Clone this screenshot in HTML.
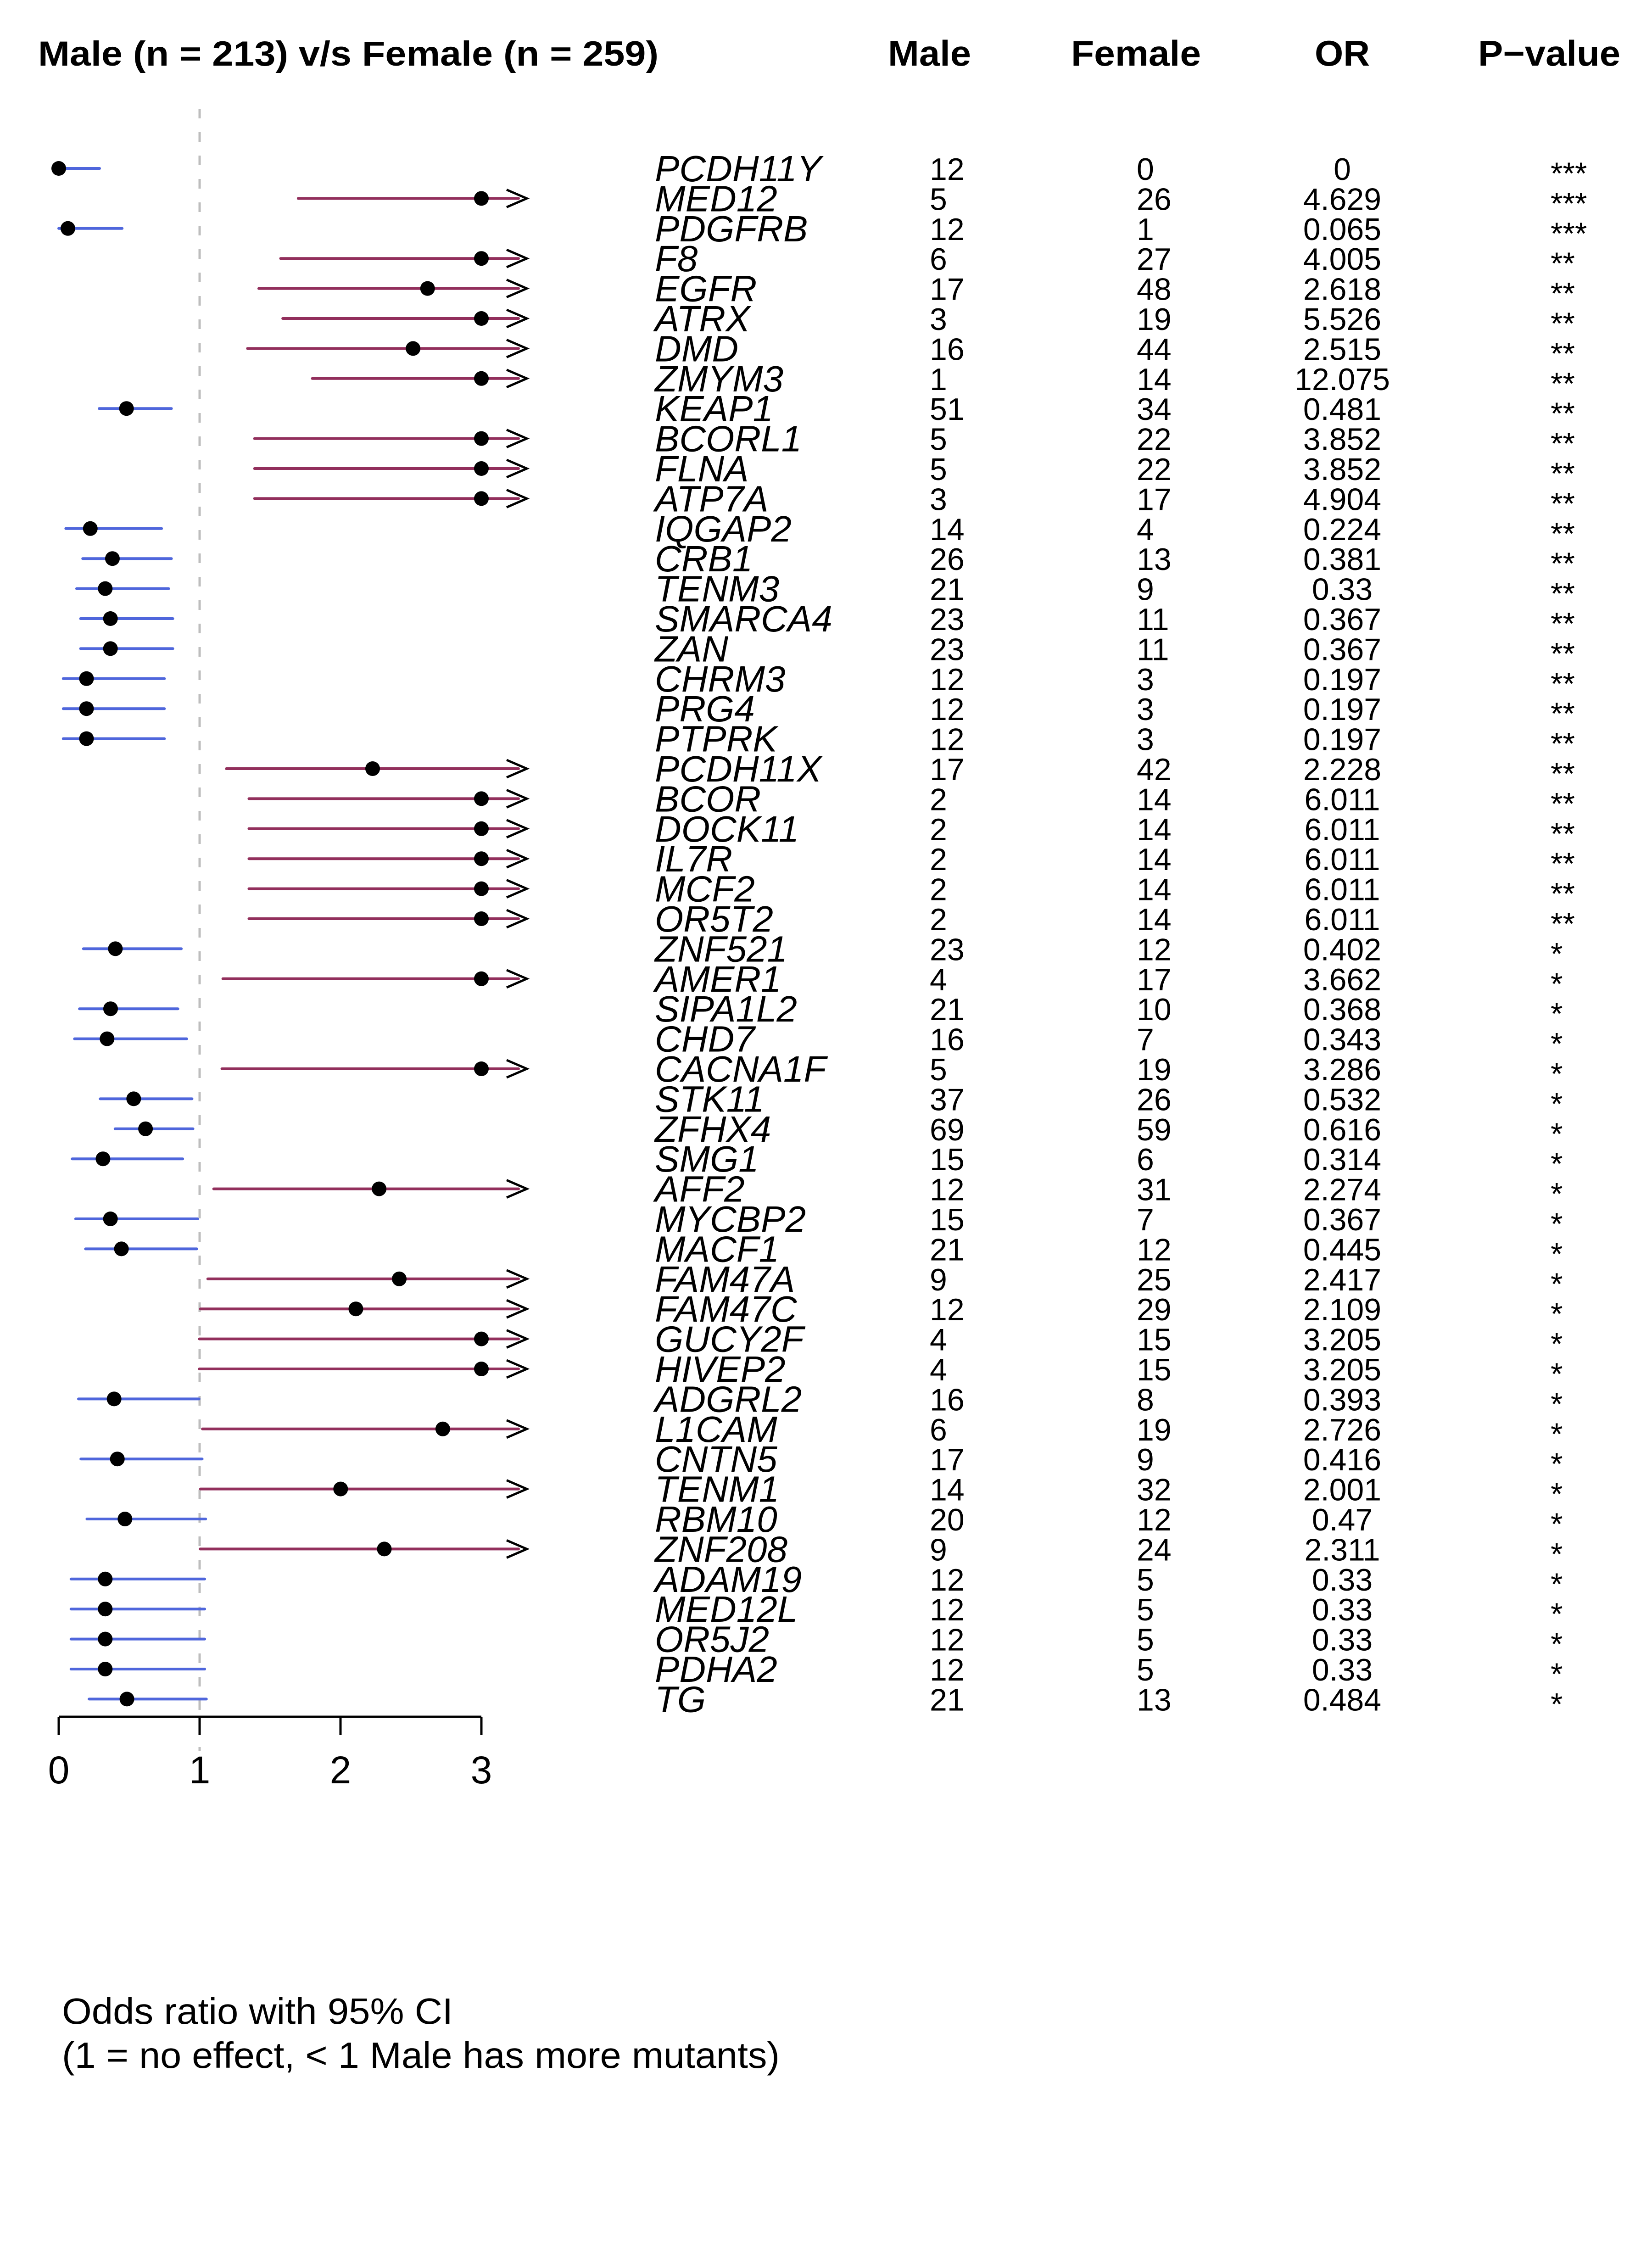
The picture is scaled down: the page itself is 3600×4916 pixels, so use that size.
<!DOCTYPE html>
<html><head><meta charset="utf-8">
<style>
html,body{margin:0;padding:0;background:#fff;}
svg{display:block;font-family:"Liberation Sans",Arial,sans-serif;}
</style></head>
<body>
<svg id="chart" width="3600" height="4916" viewBox="0 0 3600 4916" xmlns="http://www.w3.org/2000/svg">
<rect width="3600" height="4916" fill="#fff"/>
<text x="83" y="143" font-size="76" font-weight="bold" textLength="1352" lengthAdjust="spacingAndGlyphs">Male (n = 213) v/s Female (n = 259)</text>
<text x="1935" y="143" font-size="78" font-weight="bold" textLength="181" lengthAdjust="spacingAndGlyphs">Male</text>
<text x="2334" y="143" font-size="78" font-weight="bold" textLength="283" lengthAdjust="spacingAndGlyphs">Female</text>
<text x="2865" y="143" font-size="78" font-weight="bold" textLength="120" lengthAdjust="spacingAndGlyphs">OR</text>
<text x="3221" y="143" font-size="78" font-weight="bold" textLength="310" lengthAdjust="spacingAndGlyphs">P−value</text>
<g id="plot"></g>
<text x="135" y="4410" font-size="80" textLength="852" lengthAdjust="spacingAndGlyphs">Odds ratio with 95% CI</text>
<text x="135" y="4506" font-size="80" textLength="1564" lengthAdjust="spacingAndGlyphs">(1 = no effect, &lt; 1 Male has more mutants)</text>
</svg>
<script>
const genes = ["PCDH11Y","MED12","PDGFRB","F8","EGFR","ATRX","DMD","ZMYM3","KEAP1","BCORL1","FLNA","ATP7A","IQGAP2","CRB1","TENM3","SMARCA4","ZAN","CHRM3","PRG4","PTPRK","PCDH11X","BCOR","DOCK11","IL7R","MCF2","OR5T2","ZNF521","AMER1","SIPA1L2","CHD7","CACNA1F","STK11","ZFHX4","SMG1","AFF2","MYCBP2","MACF1","FAM47A","FAM47C","GUCY2F","HIVEP2","ADGRL2","L1CAM","CNTN5","TENM1","RBM10","ZNF208","ADAM19","MED12L","OR5J2","PDHA2","TG"];
const maleCounts = [12,5,12,6,17,3,16,1,51,5,5,3,14,26,21,23,23,12,12,12,17,2,2,2,2,2,23,4,21,16,5,37,69,15,12,15,21,9,12,4,4,16,6,17,14,20,9,12,12,12,12,21];
const femaleCounts = [0,26,1,27,48,19,44,14,34,22,22,17,4,13,9,11,11,3,3,3,42,14,14,14,14,14,12,17,10,7,19,26,59,6,31,7,12,25,29,15,15,8,19,9,32,12,24,5,5,5,5,13];
const oddsRatios = ["0","4.629","0.065","4.005","2.618","5.526","2.515","12.075","0.481","3.852","3.852","4.904","0.224","0.381","0.33","0.367","0.367","0.197","0.197","0.197","2.228","6.011","6.011","6.011","6.011","6.011","0.402","3.662","0.368","0.343","3.286","0.532","0.616","0.314","2.274","0.367","0.445","2.417","2.109","3.205","3.205","0.393","2.726","0.416","2.001","0.47","2.311","0.33","0.33","0.33","0.33","0.484"];
const ciLower = [0,1.70,0,1.575,1.42,1.59,1.34,1.80,0.287,1.39,1.39,1.39,0.05,0.17,0.127,0.155,0.155,0.032,0.032,0.032,1.19,1.35,1.35,1.35,1.35,1.35,0.175,1.165,0.147,0.112,1.158,0.294,0.40,0.095,1.10,0.12,0.19,1.058,1.006,0.998,0.998,0.14,1.02,0.157,1.006,0.20,1.003,0.087,0.087,0.087,0.087,0.215];
const ciUpper = [0.29,99,0.45,99,99,99,99,99,0.80,99,99,99,0.73,0.80,0.78,0.81,0.81,0.75,0.75,0.75,99,99,99,99,99,99,0.87,99,0.846,0.908,99,0.946,0.953,0.88,99,0.986,0.98,99,99,99,99,0.996,99,1.018,99,1.043,99,1.036,1.036,1.036,1.036,1.048];
const pStars = ["***","***","***","**","**","**","**","**","**","**","**","**","**","**","**","**","**","**","**","**","**","**","**","**","**","**","*","*","*","*","*","*","*","*","*","*","*","*","*","*","*","*","*","*","*","*","*","*","*","*","*","*"];
const xTicks = [0,1,2,3];

const NS="http://www.w3.org/2000/svg";
const g=document.getElementById('plot');
const X0=128, UNIT=307, XMAX=3, CLIPX=1130;
const xs=v=>X0+Math.min(v,XMAX)*UNIT;
const Y0=367, DY=65.4;
const ys=i=>Y0+i*DY;
function mk(tag,attrs){const e=document.createElementNS(NS,tag);for(const k in attrs)e.setAttribute(k,attrs[k]);g.appendChild(e);return e;}

const ref=mk('line',{x1:xs(1),x2:xs(1),y1:237,y2:3815,stroke:'#bdbdbd','stroke-width':5,'stroke-dasharray':'21 30'});



genes.forEach((gname,i)=>{
  const y=ys(i);
  const orv=parseFloat(oddsRatios[i]);
  const up=ciUpper[i];
  const clipped=up>XMAX;
  const col=orv<1?'#4f66dc':'#922f5c';
  const x2=clipped?CLIPX:xs(up);
  const ln=mk('line',{x1:xs(ciLower[i]),x2:x2,y1:y,y2:y,stroke:col,'stroke-width':6,'stroke-linecap':'round'});
  
  
  if(clipped){
    const ar=mk('polyline',{points:`${CLIPX-26},${y-19} ${CLIPX+18},${y} ${CLIPX-26},${y+19}`,fill:'none',stroke:'#000','stroke-width':5});
    
    
  }
  const pt=mk('circle',{cx:xs(orv),cy:y,r:16,fill:'#000'});
  
  

  const gt=mk('text',{x:1427,y:y+28,'font-size':80,'font-style':'italic'});
  gt.textContent=gname;
  
  
  const mt=mk('text',{x:2026,y:y+25,'font-size':68});
  mt.textContent=maleCounts[i];
  
  
  const ft=mk('text',{x:2477,y:y+25,'font-size':68});
  ft.textContent=femaleCounts[i];
  
  
  const ot=mk('text',{x:2925,y:y+25,'font-size':68,'text-anchor':'middle'});
  ot.textContent=oddsRatios[i];
  
  
  const pv=mk('text',{x:3379,y:y+34,'font-size':68});
  pv.textContent=pStars[i];
  
  
});

const AY=3741;
const ax=mk('line',{x1:xs(xTicks[0]),x2:xs(xTicks[xTicks.length-1]),y1:AY,y2:AY,stroke:'#000','stroke-width':5});


xTicks.forEach(t=>{
  const tk=mk('line',{x1:xs(t),x2:xs(t),y1:AY,y2:AY+40,stroke:'#000','stroke-width':5});
  
  
  const tl=mk('text',{x:xs(t),y:AY+145,'font-size':84,'text-anchor':'middle'});
  tl.textContent=t;
  
  
});
</script>
</body></html>
